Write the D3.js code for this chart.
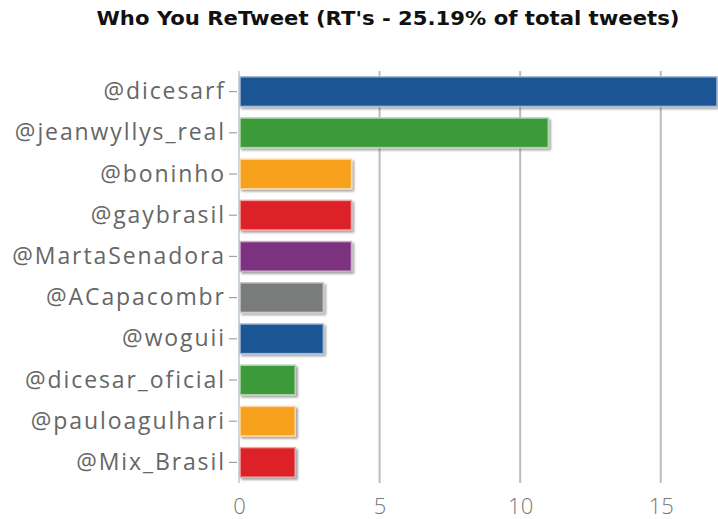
<!DOCTYPE html>
<html>
<head>
<meta charset="utf-8">
<script src="https://cdn.jsdelivr.net/npm/d3@7"></script>
<style>
  html, body { margin: 0; padding: 0; background: #fff; }
  svg { display: block; }
</style>
</head>
<body>
<svg id="chart" width="718" height="519"></svg>
<script>
// Retweeted accounts and retweet counts
const accounts = ["@dicesarf", "@jeanwyllys_real", "@boninho", "@gaybrasil", "@MartaSenadora",
                  "@ACapacombr", "@woguii", "@dicesar_oficial", "@pauloagulhari", "@Mix_Brasil"];
const retweets = [17, 11, 4, 4, 4, 3, 3, 2, 2, 2];
const barColors = ["#1d5494", "#3d9a3b", "#f7a11b", "#dc2227", "#7c337f",
                   "#7a7b7c", "#1d5494", "#3d9a3b", "#f7a11b", "#dc2227"];
const xTicks = [0, 5, 10, 15];
const titleText = "Who You ReTweet (RT's - 25.19% of total tweets)";

(function () {
  const svg = d3.select("#chart");
  const W = 718;
  const plotLeft = 239, plotRight = 717, plotTop = 71, plotBottom = 483;

  const x = d3.scaleLinear().domain([0, 17]).range([plotLeft, plotRight]);
  const y = d3.scaleBand().domain(accounts).range([plotTop, plotBottom])
    .paddingInner(0.28).paddingOuter(0.14);

  // Soft drop shadow under each bar
  const defs = svg.append("defs");
  const f = defs.append("filter").attr("id", "shadow")
    .attr("x", "-5%").attr("y", "-20%").attr("width", "115%").attr("height", "150%");
  f.append("feGaussianBlur").attr("in", "SourceAlpha").attr("stdDeviation", 1.3).attr("result", "b");
  f.append("feOffset").attr("in", "b").attr("dx", 2).attr("dy", 2).attr("result", "o");
  f.append("feComponentTransfer").attr("in", "o").attr("result", "s")
    .append("feFuncA").attr("type", "linear").attr("slope", 0.35);
  const m = f.append("feMerge");
  m.append("feMergeNode").attr("in", "s");
  m.append("feMergeNode").attr("in", "SourceGraphic");

  // Title
  svg.append("text")
    .attr("x", 388).attr("y", 25)
    .attr("text-anchor", "middle")
    .attr("textLength", 583)
    .attr("lengthAdjust", "spacingAndGlyphs")
    .style("font-family", "'DejaVu Sans', Verdana, sans-serif")
    .style("font-weight", "bold")
    .style("font-size", "19px")
    .style("fill", "#111")
    .text(titleText);

  // Vertical gridlines
  svg.append("g").selectAll("line")
    .data(xTicks.filter(d => d > 0))
    .join("line")
    .attr("x1", d => x(d)).attr("x2", d => x(d))
    .attr("y1", plotTop).attr("y2", plotBottom)
    .attr("stroke", "#bcbcbc").attr("stroke-width", 2);

  // Y axis line and category ticks
  svg.append("line")
    .attr("x1", plotLeft).attr("x2", plotLeft).attr("y1", plotTop).attr("y2", plotBottom)
    .attr("stroke", "#ccd4de").attr("stroke-width", 2);

  const yAxis = d3.axisLeft(y).tickSize(8).tickPadding(5);
  const gy = svg.append("g").attr("transform", `translate(${plotLeft - 2},0)`).call(yAxis);
  gy.select(".domain").remove();
  gy.selectAll(".tick line").attr("stroke", "#a0a0a0").attr("stroke-width", 1.2);
  gy.selectAll(".tick text")
    .style("font-family", "'Open Sans', Lato, sans-serif")
    .style("font-size", "23px")
    .style("letter-spacing", "1.9px")
    .style("fill", "#666")
    .attr("dx", "1.9px")
    .attr("dy", "0.33em");

  // Bars
  svg.append("g").selectAll("rect")
    .data(accounts.map((a, i) => ({ a, v: retweets[i], c: barColors[i] })))
    .join("rect")
    .attr("x", x(0) + 1)
    .attr("y", d => y(d.a))
    .attr("width", d => Math.min(x(d.v), W - 1) - x(0) - 1)
    .attr("height", y.bandwidth())
    .attr("fill", d => d.c)
    .attr("stroke", d => d3.interpolateRgb(d.c, "#ffffff")(0.6))
    .attr("stroke-width", 1.5)
    .attr("filter", "url(#shadow)");

  // X axis tick labels
  const xAxis = d3.axisBottom(x).tickValues(xTicks).tickSize(0).tickPadding(15);
  const gx = svg.append("g").attr("transform", `translate(0,${plotBottom})`).call(xAxis);
  gx.select(".domain").remove();
  gx.selectAll(".tick text")
    .style("font-family", "'Open Sans', Lato, sans-serif")
    .style("font-weight", "300")
    .style("font-size", "22px")
    .style("fill", "#777");
})();
</script>
</body>
</html>
